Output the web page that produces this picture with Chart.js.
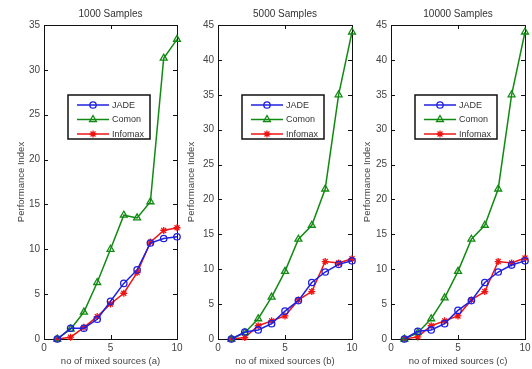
<!DOCTYPE html>
<html>
<head>
<meta charset="utf-8">
<script src="https://cdn.jsdelivr.net/npm/chart.js@4.4.0/dist/chart.umd.min.js"></script>
<style>
html, body { margin: 0; padding: 0; background: #fff; }
#wrap { position: relative; width: 532px; height: 369px; }
canvas { position: absolute; left: 0; top: 0; }
</style>
</head>
<body>
<div id="wrap">
  <canvas id="c1" width="532" height="369"></canvas>
  <canvas id="c2" width="532" height="369"></canvas>
  <canvas id="c3" width="532" height="369"></canvas>
</div>
<script>
// number of mixed sources
const sources = [1, 2, 3, 4, 5, 6, 7, 8, 9, 10];
const seriesNames = ['JADE', 'Comon', 'Infomax'];

// 1000 samples
const jade1000    = [0, 1.2, 1.2, 2.2, 4.2, 6.2, 7.7, 10.7, 11.2, 11.4];
const comon1000   = [0, 1.1, 3.0, 6.3, 10.0, 13.8, 13.5, 15.3, 31.3, 33.4];
const infomax1000 = [0, 0.2, 1.3, 2.5, 3.9, 5.1, 7.4, 10.8, 12.1, 12.4];

// 5000 samples
const jade5000    = [0, 1.0, 1.3, 2.2, 4.0, 5.5, 8.1, 9.6, 10.7, 11.2];
const comon5000   = [0, 0.9, 2.9, 6.0, 9.7, 14.3, 16.3, 21.5, 35.0, 44.0];
const infomax5000 = [0, 0.2, 1.9, 2.6, 3.3, 5.6, 6.8, 11.1, 10.9, 11.5];

// 10000 samples
const jade10000    = [0, 1.1, 1.3, 2.2, 4.1, 5.5, 8.1, 9.6, 10.6, 11.2];
const comon10000   = [0, 0.9, 2.9, 5.9, 9.7, 14.3, 16.3, 21.5, 35.0, 44.0];
const infomax10000 = [0, 0.3, 1.9, 2.6, 3.3, 5.6, 6.8, 11.1, 10.9, 11.6];

const FONT = '"Liberation Sans", Arial, sans-serif';
const colors = ['#1f1fe0', '#128a12', '#ee1414'];
const styles = ['circle', 'triangle', 'star'];
const radii = [3.2, 4, 3.5];

function toPoints(vals) {
    return sources.map((s, i) => ({x: s, y: vals[i]}));
}

function makeDatasets(lists) {
    return lists.map((vals, i) => ({
        label: seriesNames[i],
        data: toPoints(vals),
        borderColor: colors[i],
        backgroundColor: 'rgba(0,0,0,0)',
        borderWidth: 1.5,
        pointStyle: styles[i],
        pointRadius: radii[i],
        pointBorderWidth: 1.3,
        pointBorderColor: colors[i],
        pointBackgroundColor: 'rgba(0,0,0,0)',
        tension: 0,
        clip: false
    }));
}

// MATLAB style box with inward ticks
const axesBox = {
    id: 'axesBox',
    beforeDatasetsDraw(chart) {
        const {ctx, chartArea: a, scales} = chart;
        ctx.save();
        ctx.strokeStyle = '#111';
        ctx.lineWidth = 1;
        ctx.strokeRect(a.left + 0.5, a.top + 0.5, a.right - a.left, a.bottom - a.top);
        ctx.beginPath();
        scales.x.ticks.forEach(t => {
            const px = Math.round(scales.x.getPixelForValue(t.value)) + 0.5;
            ctx.moveTo(px, a.bottom); ctx.lineTo(px, a.bottom - 4);
            ctx.moveTo(px, a.top); ctx.lineTo(px, a.top + 4);
        });
        scales.y.ticks.forEach(t => {
            const py = Math.round(scales.y.getPixelForValue(t.value)) + 0.5;
            ctx.moveTo(a.left, py); ctx.lineTo(a.left + 4, py);
            ctx.moveTo(a.right, py); ctx.lineTo(a.right - 4, py);
        });
        ctx.stroke();
        ctx.restore();
    }
};

// legend drawn inside the axes
const boxLegend = {
    id: 'boxLegend',
    afterDatasetsDraw(chart, args, opts) {
        const {ctx, chartArea: a} = chart;
        const x = a.left + opts.dx, y = a.top + opts.dy, w = opts.w, h = opts.h;
        ctx.save();
        ctx.fillStyle = '#fff';
        ctx.fillRect(x, y, w, h);
        ctx.strokeStyle = '#111';
        ctx.lineWidth = 1.5;
        ctx.strokeRect(x, y, w, h);
        ctx.font = '9px ' + FONT;
        ctx.textBaseline = 'middle';
        chart.data.datasets.forEach((ds, i) => {
            const ry = y + 10 + i * 14.5;
            ctx.strokeStyle = ds.borderColor;
            ctx.lineWidth = 1.5;
            ctx.beginPath();
            ctx.moveTo(x + 9, ry); ctx.lineTo(x + 41, ry);
            ctx.stroke();
            ctx.fillStyle = 'rgba(0,0,0,0)';
            ctx.lineWidth = ds.pointBorderWidth;
            Chart.helpers.drawPoint(ctx, {
                pointStyle: ds.pointStyle, radius: ds.pointRadius,
                borderWidth: ds.pointBorderWidth, rotation: 0
            }, x + 25, ry);
            ctx.fillStyle = '#333';
            ctx.fillText(ds.label, x + 44, ry + 0.5);
        });
        ctx.restore();
    }
};

function makeChart(id, lists, opt) {
    new Chart(document.getElementById(id), {
        type: 'line',
        data: {datasets: makeDatasets(lists)},
        options: {
            responsive: false,
            animation: false,
            layout: {padding: {left: opt.padLeft, right: opt.padRight, top: 0, bottom: 0}},
            plugins: {
                legend: {display: false},
                tooltip: {enabled: false},
                title: {
                    display: true,
                    text: opt.title,
                    fullSize: false,
                    color: '#333',
                    font: {family: FONT, size: 10, weight: 'normal'},
                    padding: {top: 8, bottom: 5}
                },
                boxLegend: {dx: 24, dy: 70, w: 82, h: 44}
            },
            scales: {
                x: {
                    type: 'linear',
                    min: 0, max: 10,
                    afterBuildTicks: s => { s.ticks = [0, 5, 10].map(v => ({value: v})); },
                    grid: {display: false, drawTicks: false},
                    border: {display: false},
                    ticks: {color: '#444', font: {family: FONT, size: 10}, padding: 3, maxRotation: 0},
                    title: {
                        display: true,
                        text: opt.xTitle,
                        color: '#444',
                        font: {family: FONT, size: 9.5},
                        padding: {top: 0, bottom: 2}
                    },
                    afterFit: s => { s.height = 30; s.paddingLeft = 0; s.paddingRight = 0; }
                },
                y: {
                    type: 'linear',
                    min: 0, max: opt.yMax,
                    grid: {display: false, drawTicks: false},
                    border: {display: false},
                    ticks: {stepSize: 5, color: '#444', font: {family: FONT, size: 10}, padding: 4},
                    title: {
                        display: true,
                        text: 'Performance Index',
                        color: '#444',
                        font: {family: FONT, size: 9.5},
                        padding: 0
                    },
                    afterFit: s => { s.width = opt.yWidth; s.paddingTop = 0; s.paddingBottom = 0; }
                }
            }
        },
        plugins: [axesBox, boxLegend]
    });
}

makeChart('c1', [jade1000, comon1000, infomax1000],
    {title: '1000 Samples', xTitle: 'no of mixed sources (a)', yMax: 35, padLeft: 16, yWidth: 28, padRight: 532 - 177});
makeChart('c2', [jade5000, comon5000, infomax5000],
    {title: '5000 Samples', xTitle: 'no of mixed sources (b)', yMax: 45, padLeft: 186, yWidth: 32, padRight: 532 - 352});
makeChart('c3', [jade10000, comon10000, infomax10000],
    {title: '10000 Samples', xTitle: 'no of mixed sources (c)', yMax: 45, padLeft: 362, yWidth: 29, padRight: 532 - 525});
</script>
</body>
</html>
